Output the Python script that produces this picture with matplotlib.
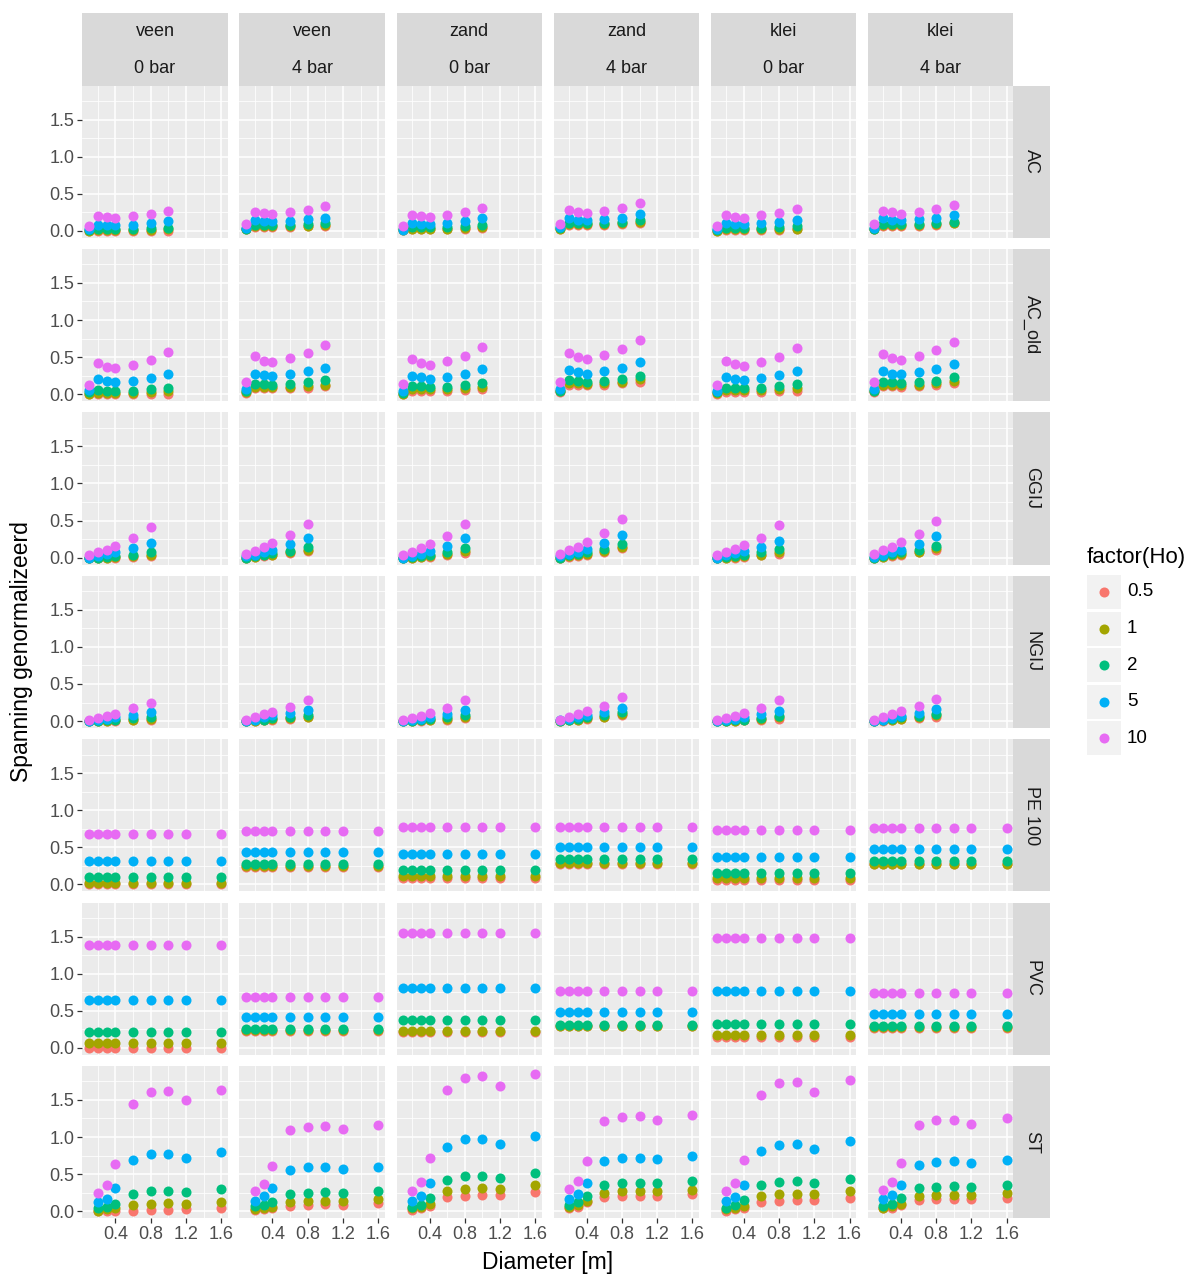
import matplotlib
matplotlib.use("Agg")
import matplotlib.pyplot as plt
from matplotlib.ticker import FixedLocator

# facets
columns = ["veen 0 bar", "veen 4 bar", "zand 0 bar", "zand 4 bar", "klei 0 bar", "klei 4 bar"]
col_soil = ["veen", "veen", "zand", "zand", "klei", "klei"]
col_bar = ["0 bar", "4 bar", "0 bar", "4 bar", "0 bar", "4 bar"]
materials = ["AC", "AC_old", "GGIJ", "NGIJ", "PE 100", "PVC", "ST"]
factor_levels = ["0.5", "1", "2", "5", "10"]
factor_colors = ["#F8766D", "#A3A500", "#00BF7D", "#00B0F6", "#E76BF3"]

# diameters per material
diam_ac = [0.1, 0.2, 0.3, 0.4, 0.6, 0.8, 1.0]
diam_gijs = [0.1, 0.2, 0.3, 0.4, 0.6, 0.8]
diam_plastic = [0.1, 0.2, 0.3, 0.4, 0.6, 0.8, 1.0, 1.2, 1.6]
diam_st = [0.2, 0.3, 0.4, 0.6, 0.8, 1.0, 1.2, 1.6]

# values per column, rows are factor levels 0.5, 1, 2, 5, 10
ac = [
    [[0.0, 0.0, 0.0, 0.0, 0.0, 0.0, 0.0],
     [0.0, 0.01, 0.01, 0.01, 0.01, 0.01, 0.02],
     [0.01, 0.03, 0.03, 0.03, 0.03, 0.04, 0.04],
     [0.02, 0.08, 0.08, 0.08, 0.08, 0.10, 0.13],
     [0.06, 0.20, 0.19, 0.18, 0.20, 0.23, 0.27]],
    [[0.02, 0.05, 0.05, 0.05, 0.05, 0.06, 0.07],
     [0.03, 0.06, 0.06, 0.06, 0.06, 0.07, 0.08],
     [0.03, 0.08, 0.08, 0.08, 0.08, 0.09, 0.10],
     [0.04, 0.14, 0.13, 0.13, 0.13, 0.16, 0.18],
     [0.09, 0.26, 0.24, 0.23, 0.25, 0.28, 0.34]],
    [[0.01, 0.02, 0.02, 0.02, 0.02, 0.03, 0.04],
     [0.01, 0.03, 0.03, 0.03, 0.03, 0.04, 0.05],
     [0.02, 0.05, 0.05, 0.05, 0.05, 0.06, 0.08],
     [0.01, 0.11, 0.09, 0.09, 0.10, 0.13, 0.17],
     [0.06, 0.22, 0.20, 0.19, 0.22, 0.25, 0.31]],
    [[0.03, 0.08, 0.08, 0.08, 0.08, 0.09, 0.11],
     [0.03, 0.09, 0.09, 0.09, 0.09, 0.10, 0.12],
     [0.04, 0.11, 0.10, 0.10, 0.10, 0.12, 0.14],
     [0.05, 0.17, 0.15, 0.14, 0.16, 0.18, 0.23],
     [0.09, 0.28, 0.26, 0.24, 0.27, 0.31, 0.37]],
    [[0.0, 0.01, 0.01, 0.01, 0.01, 0.01, 0.02],
     [0.0, 0.02, 0.02, 0.02, 0.02, 0.02, 0.03],
     [0.01, 0.04, 0.04, 0.04, 0.04, 0.05, 0.06],
     [0.02, 0.10, 0.09, 0.09, 0.10, 0.12, 0.15],
     [0.06, 0.22, 0.19, 0.18, 0.21, 0.24, 0.30]],
    [[0.03, 0.07, 0.07, 0.07, 0.07, 0.08, 0.10],
     [0.03, 0.08, 0.08, 0.08, 0.08, 0.09, 0.11],
     [0.03, 0.09, 0.09, 0.09, 0.09, 0.10, 0.12],
     [0.04, 0.17, 0.15, 0.14, 0.16, 0.18, 0.22],
     [0.09, 0.27, 0.25, 0.23, 0.26, 0.30, 0.35]],
]

ac_old = [
    [[0.0, 0.0, 0.0, 0.0, 0.0, 0.0, 0.0],
     [0.01, 0.02, 0.02, 0.02, 0.02, 0.03, 0.04],
     [0.03, 0.06, 0.05, 0.05, 0.05, 0.07, 0.09],
     [0.06, 0.20, 0.18, 0.17, 0.18, 0.22, 0.27],
     [0.13, 0.42, 0.37, 0.36, 0.40, 0.46, 0.57]],
    [[0.02, 0.08, 0.08, 0.08, 0.08, 0.09, 0.11],
     [0.03, 0.10, 0.10, 0.10, 0.10, 0.11, 0.13],
     [0.04, 0.14, 0.14, 0.13, 0.14, 0.16, 0.19],
     [0.07, 0.28, 0.26, 0.24, 0.27, 0.31, 0.36],
     [0.16, 0.51, 0.45, 0.43, 0.49, 0.55, 0.66]],
    [[0.0, 0.05, 0.05, 0.05, 0.05, 0.06, 0.07],
     [0.01, 0.07, 0.07, 0.07, 0.07, 0.08, 0.10],
     [0.02, 0.11, 0.11, 0.10, 0.10, 0.12, 0.15],
     [0.05, 0.25, 0.23, 0.21, 0.23, 0.27, 0.34],
     [0.14, 0.47, 0.42, 0.40, 0.45, 0.52, 0.64]],
    [[0.03, 0.13, 0.13, 0.12, 0.13, 0.15, 0.17],
     [0.04, 0.15, 0.15, 0.14, 0.15, 0.17, 0.20],
     [0.05, 0.19, 0.18, 0.17, 0.18, 0.21, 0.25],
     [0.07, 0.33, 0.30, 0.28, 0.32, 0.36, 0.43],
     [0.17, 0.56, 0.50, 0.48, 0.53, 0.61, 0.73]],
    [[0.01, 0.03, 0.03, 0.03, 0.03, 0.04, 0.05],
     [0.02, 0.06, 0.06, 0.06, 0.06, 0.07, 0.09],
     [0.03, 0.09, 0.09, 0.09, 0.09, 0.11, 0.14],
     [0.05, 0.23, 0.21, 0.19, 0.22, 0.26, 0.31],
     [0.13, 0.45, 0.41, 0.38, 0.43, 0.50, 0.62]],
    [[0.03, 0.11, 0.11, 0.10, 0.11, 0.12, 0.15],
     [0.04, 0.13, 0.13, 0.12, 0.13, 0.15, 0.18],
     [0.05, 0.17, 0.16, 0.15, 0.16, 0.18, 0.23],
     [0.07, 0.31, 0.28, 0.27, 0.30, 0.34, 0.41],
     [0.17, 0.54, 0.49, 0.46, 0.51, 0.59, 0.71]],
]

ggij = [
    [[0.0, 0.0, 0.0, 0.0, 0.01, 0.02],
     [0.0, 0.0, 0.0, 0.01, 0.02, 0.04],
     [0.0, 0.0, 0.01, 0.02, 0.04, 0.07],
     [0.0, 0.02, 0.05, 0.08, 0.13, 0.20],
     [0.03, 0.07, 0.11, 0.16, 0.26, 0.41]],
    [[0.0, 0.01, 0.02, 0.03, 0.06, 0.09],
     [0.0, 0.01, 0.03, 0.04, 0.07, 0.11],
     [0.0, 0.02, 0.04, 0.06, 0.09, 0.14],
     [0.02, 0.04, 0.07, 0.11, 0.18, 0.26],
     [0.05, 0.09, 0.14, 0.20, 0.30, 0.46]],
    [[0.0, 0.0, 0.01, 0.01, 0.03, 0.06],
     [0.0, 0.0, 0.01, 0.02, 0.05, 0.09],
     [0.0, 0.01, 0.02, 0.04, 0.07, 0.13],
     [0.0, 0.02, 0.05, 0.09, 0.16, 0.26],
     [0.04, 0.08, 0.13, 0.18, 0.29, 0.45]],
    [[0.0, 0.01, 0.02, 0.04, 0.08, 0.13],
     [0.0, 0.02, 0.03, 0.05, 0.09, 0.15],
     [0.0, 0.03, 0.05, 0.07, 0.12, 0.18],
     [0.02, 0.05, 0.08, 0.12, 0.20, 0.31],
     [0.05, 0.10, 0.15, 0.21, 0.33, 0.52]],
    [[0.0, 0.0, 0.0, 0.01, 0.03, 0.05],
     [0.0, 0.0, 0.01, 0.02, 0.04, 0.08],
     [0.0, 0.01, 0.02, 0.04, 0.07, 0.12],
     [0.0, 0.03, 0.06, 0.09, 0.15, 0.23],
     [0.03, 0.07, 0.12, 0.17, 0.27, 0.44]],
    [[0.0, 0.01, 0.02, 0.04, 0.07, 0.11],
     [0.0, 0.01, 0.03, 0.05, 0.08, 0.13],
     [0.0, 0.02, 0.05, 0.07, 0.10, 0.16],
     [0.01, 0.04, 0.07, 0.11, 0.18, 0.29],
     [0.05, 0.10, 0.15, 0.21, 0.32, 0.50]],
]

ngij = [
    [[0.0, 0.0, 0.0, 0.0, 0.01, 0.02],
     [0.0, 0.0, 0.0, 0.01, 0.02, 0.03],
     [0.0, 0.0, 0.01, 0.02, 0.04, 0.06],
     [0.0, 0.01, 0.03, 0.05, 0.08, 0.12],
     [0.01, 0.04, 0.07, 0.10, 0.17, 0.25]],
    [[0.0, 0.0, 0.01, 0.02, 0.03, 0.05],
     [0.0, 0.0, 0.01, 0.03, 0.04, 0.06],
     [0.0, 0.01, 0.02, 0.04, 0.06, 0.08],
     [0.0, 0.02, 0.05, 0.08, 0.11, 0.15],
     [0.02, 0.05, 0.09, 0.12, 0.19, 0.28]],
    [[0.0, 0.0, 0.0, 0.01, 0.02, 0.04],
     [0.0, 0.0, 0.01, 0.02, 0.03, 0.05],
     [0.0, 0.0, 0.01, 0.03, 0.05, 0.08],
     [0.0, 0.01, 0.03, 0.06, 0.10, 0.15],
     [0.01, 0.04, 0.07, 0.11, 0.18, 0.28]],
    [[0.0, 0.01, 0.02, 0.03, 0.05, 0.08],
     [0.0, 0.01, 0.02, 0.04, 0.06, 0.09],
     [0.0, 0.02, 0.03, 0.05, 0.08, 0.12],
     [0.01, 0.03, 0.05, 0.08, 0.12, 0.18],
     [0.02, 0.06, 0.09, 0.14, 0.21, 0.32]],
    [[0.0, 0.0, 0.0, 0.01, 0.02, 0.03],
     [0.0, 0.0, 0.0, 0.01, 0.03, 0.05],
     [0.0, 0.0, 0.01, 0.02, 0.04, 0.07],
     [0.0, 0.01, 0.03, 0.05, 0.09, 0.14],
     [0.01, 0.04, 0.07, 0.11, 0.18, 0.28]],
    [[0.0, 0.0, 0.01, 0.03, 0.04, 0.06],
     [0.0, 0.01, 0.02, 0.03, 0.05, 0.08],
     [0.0, 0.01, 0.03, 0.05, 0.07, 0.10],
     [0.0, 0.02, 0.04, 0.07, 0.11, 0.16],
     [0.01, 0.05, 0.09, 0.13, 0.20, 0.30]],
]

# PE 100 and PVC are almost flat over the diameter
pe100_level = [
    [0.0, 0.02, 0.10, 0.32, 0.68],
    [0.24, 0.25, 0.27, 0.44, 0.72],
    [0.09, 0.11, 0.19, 0.41, 0.77],
    [0.28, 0.29, 0.34, 0.50, 0.78],
    [0.06, 0.09, 0.15, 0.37, 0.74],
    [0.27, 0.28, 0.31, 0.48, 0.76],
]
pvc_level = [
    [0.0, 0.07, 0.21, 0.65, 1.39],
    [0.23, 0.24, 0.25, 0.41, 0.69],
    [0.22, 0.23, 0.38, 0.81, 1.55],
    [0.29, 0.30, 0.31, 0.48, 0.77],
    [0.14, 0.18, 0.32, 0.76, 1.48],
    [0.27, 0.28, 0.29, 0.46, 0.74],
]

st = [
    [[0.0, 0.0, 0.01, 0.01, 0.02, 0.02, 0.03, 0.05],
     [0.01, 0.03, 0.05, 0.09, 0.10, 0.11, 0.10, 0.13],
     [0.04, 0.06, 0.10, 0.23, 0.27, 0.28, 0.26, 0.30],
     [0.12, 0.17, 0.31, 0.69, 0.77, 0.77, 0.72, 0.80],
     [0.24, 0.36, 0.64, 1.45, 1.61, 1.62, 1.50, 1.63]],
    [[0.02, 0.03, 0.05, 0.07, 0.09, 0.10, 0.09, 0.11],
     [0.03, 0.04, 0.06, 0.13, 0.14, 0.14, 0.14, 0.16],
     [0.07, 0.08, 0.13, 0.23, 0.25, 0.26, 0.25, 0.27],
     [0.14, 0.20, 0.32, 0.56, 0.59, 0.59, 0.57, 0.60],
     [0.27, 0.37, 0.61, 1.09, 1.14, 1.15, 1.11, 1.16]],
    [[0.02, 0.04, 0.07, 0.19, 0.21, 0.22, 0.22, 0.26],
     [0.05, 0.06, 0.10, 0.27, 0.30, 0.31, 0.30, 0.35],
     [0.06, 0.09, 0.18, 0.42, 0.47, 0.48, 0.45, 0.51],
     [0.14, 0.21, 0.38, 0.87, 0.97, 0.98, 0.91, 1.01],
     [0.28, 0.40, 0.72, 1.63, 1.80, 1.82, 1.69, 1.85]],
    [[0.04, 0.06, 0.12, 0.19, 0.20, 0.21, 0.21, 0.23],
     [0.06, 0.09, 0.14, 0.24, 0.27, 0.27, 0.27, 0.29],
     [0.09, 0.12, 0.20, 0.36, 0.38, 0.38, 0.38, 0.41],
     [0.17, 0.23, 0.38, 0.68, 0.72, 0.72, 0.70, 0.74],
     [0.30, 0.41, 0.68, 1.21, 1.27, 1.28, 1.23, 1.30]],
    [[0.01, 0.03, 0.05, 0.12, 0.14, 0.15, 0.15, 0.18],
     [0.03, 0.05, 0.07, 0.20, 0.23, 0.23, 0.23, 0.27],
     [0.05, 0.08, 0.15, 0.35, 0.40, 0.41, 0.38, 0.44],
     [0.14, 0.19, 0.35, 0.81, 0.89, 0.90, 0.84, 0.94],
     [0.27, 0.38, 0.69, 1.56, 1.73, 1.74, 1.61, 1.77]],
    [[0.04, 0.05, 0.09, 0.15, 0.16, 0.17, 0.17, 0.18],
     [0.05, 0.07, 0.10, 0.20, 0.22, 0.22, 0.22, 0.24],
     [0.07, 0.10, 0.18, 0.31, 0.33, 0.34, 0.33, 0.36],
     [0.16, 0.22, 0.36, 0.63, 0.67, 0.68, 0.65, 0.69],
     [0.29, 0.39, 0.65, 1.16, 1.23, 1.23, 1.18, 1.25]],
]


def flat_rows(levels):
    # one value per factor, repeated for every diameter
    return [[[v] * len(diam_plastic) for v in col] for col in levels]


panel_data = {
    "AC": (diam_ac, ac),
    "AC_old": (diam_ac, ac_old),
    "GGIJ": (diam_gijs, ggij),
    "NGIJ": (diam_gijs, ngij),
    "PE 100": (diam_plastic, flat_rows(pe100_level)),
    "PVC": (diam_plastic, flat_rows(pvc_level)),
    "ST": (diam_st, st),
}

# ---------------- layout (pixels) ----------------
W, H = 1192, 1274
fig = plt.figure(figsize=(W / 100, H / 100), dpi=100)
plt.rcParams["font.family"] = ["Liberation Sans", "DejaVu Sans"]

left0, top0 = 82.3, 85.5
pw, ph = 145.5, 152.3
dx, dy = 157.1, 163.4
tick_col = "#4D4D4D"
dot = 52


def px_axes(x, y, w, h):
    return fig.add_axes([x / W, 1 - (y + h) / H, w / W, h / H])


def plain(ax, color):
    ax.set_facecolor(color)
    ax.set_xticks([])
    ax.set_yticks([])
    for s in ax.spines.values():
        s.set_visible(False)


for r, mat in enumerate(materials):
    diam, cols = panel_data[mat]
    for c in range(len(columns)):
        ax = px_axes(left0 + c * dx, top0 + r * dy, pw, ph)
        ax.set_facecolor("#EBEBEB")
        for s in ax.spines.values():
            s.set_visible(False)
        ax.set_xlim(0.025, 1.675)
        ax.set_ylim(-0.093, 1.958)
        ax.xaxis.set_major_locator(FixedLocator([0.4, 0.8, 1.2, 1.6]))
        ax.xaxis.set_minor_locator(FixedLocator([0.2, 0.6, 1.0, 1.4]))
        ax.yaxis.set_major_locator(FixedLocator([0.0, 0.5, 1.0, 1.5]))
        ax.yaxis.set_minor_locator(FixedLocator([0.25, 0.75, 1.25, 1.75]))
        ax.grid(True, which="major", color="white", lw=1.1)
        ax.grid(True, which="minor", color="white", lw=0.55)
        ax.set_axisbelow(True)
        ax.tick_params(which="minor", length=0)
        ax.tick_params(which="major", length=3.5, width=0.9, color="#333333",
                       labelsize=13, labelcolor=tick_col, pad=2)
        if c == 0:
            ax.set_yticklabels(["0.0", "0.5", "1.0", "1.5"])
        else:
            ax.tick_params(axis="y", length=0, labelleft=False)
        if r == len(materials) - 1:
            ax.set_xticklabels(["0.4", "0.8", "1.2", "1.6"])
        else:
            ax.tick_params(axis="x", length=0, labelbottom=False)

        for k, color in enumerate(factor_colors):
            ax.scatter(diam, cols[c][k], s=dot, color=color, linewidths=0,
                       clip_on=False, zorder=3)

# top strips
for c in range(len(columns)):
    sx = px_axes(left0 + c * dx, 13, pw, top0 - 13)
    plain(sx, "#D9D9D9")
    sx.text(0.5, 0.75, col_soil[c], ha="center", va="center", fontsize=13,
            color="#1A1A1A", transform=sx.transAxes)
    sx.text(0.5, 0.24, col_bar[c], ha="center", va="center", fontsize=13,
            color="#1A1A1A", transform=sx.transAxes)

# right strips
sx_left = left0 + 5 * dx + pw
for r, mat in enumerate(materials):
    sx = px_axes(sx_left, top0 + r * dy, 36.6, ph)
    plain(sx, "#D9D9D9")
    sx.text(0.5, 0.5, mat, ha="center", va="center", rotation=-90, fontsize=13,
            color="#1A1A1A", transform=sx.transAxes)

# axis titles
fig.text((left0 + sx_left) / 2 / W, 1 - 1262 / H, "Diameter [m]",
         ha="center", va="center", fontsize=16.5, color="black")
fig.text(22 / W, 1 - (top0 + (6 * dy + ph) / 2) / H, "Spanning genormalizeerd",
         ha="center", va="center", rotation=90, fontsize=16.5, color="black")

# legend
fig.text(1087 / W, 1 - 557 / H, "factor(Ho)", ha="left", va="center", fontsize=16)
for i, (lab, color) in enumerate(zip(factor_levels, factor_colors)):
    yc = 592 + i * 36.6
    kx = px_axes(1087, yc - 17, 34, 34)
    plain(kx, "#F2F2F2")
    kx.set_xlim(0, 1)
    kx.set_ylim(0, 1)
    kx.scatter([0.5], [0.5], s=dot, color=color, linewidths=0)
    fig.text(1127 / W, 1 - yc / H, lab, ha="left", va="center", fontsize=13.5)

fig.savefig("out.png", dpi=100)
